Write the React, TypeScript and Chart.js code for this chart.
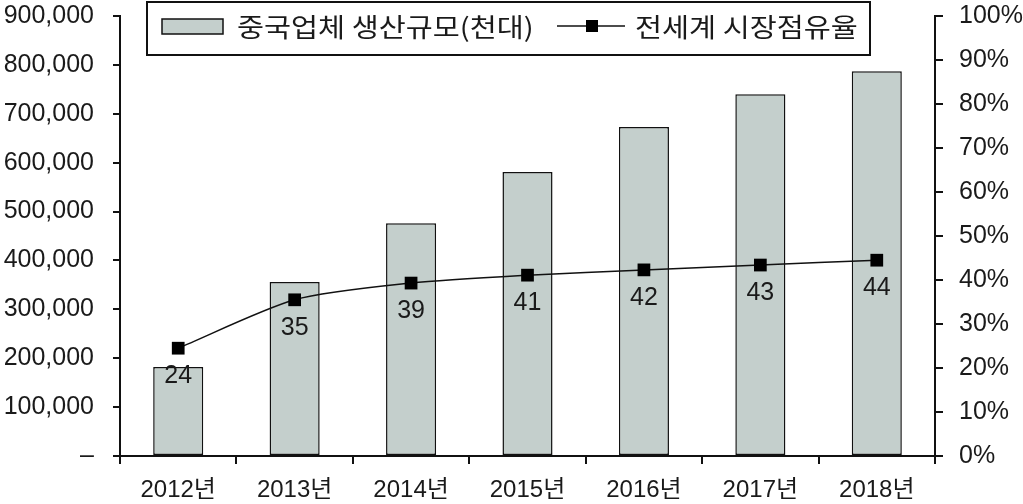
import React, { useEffect, useRef } from "react";
import { Chart, registerables } from "chart.js";

Chart.register(...registerables);

const categories = ["2012년", "2013년", "2014년", "2015년", "2016년", "2017년", "2018년"];
const productionValues = [182000, 356000, 476000, 581000, 673000, 740000, 787000];
const shareValues = [24.5, 35.5, 39.3, 41.1, 42.3, 43.4, 44.5];
const shareLabels = ["24", "35", "39", "41", "42", "43", "44"];
const barLabel = "중국업체 생산규모(천대)";
const lineLabel = "전세계 시장점유율";

const BAR_COLOR = "rgb(196,207,204)";
const FONT = "'Liberation Sans', Arial, 'Noto Sans CJK KR', sans-serif";
const KFONT = "'Noto Sans CJK KR', 'Liberation Sans', sans-serif";

function stretchedText(ctx: any, text: string, x: number, y: number, sx: number) {
  ctx.save();
  ctx.translate(x, y);
  ctx.scale(sx, 1);
  ctx.fillText(text, 0, 0);
  ctx.restore();
}

const overlayPlugin = {
  id: "overlay",
  afterDatasetsDraw(chart: any) {
    const ctx = chart.ctx;
    const meta = chart.getDatasetMeta(1);
    ctx.save();
    ctx.font = `25px ${FONT}`;
    ctx.fillStyle = "#1a1a1a";
    ctx.textAlign = "center";
    ctx.textBaseline = "middle";
    meta.data.forEach((pt: any, i: number) => {
      ctx.fillText(shareLabels[i], pt.x, pt.y + 28);
    });
    ctx.restore();
  },
  afterDraw(chart: any) {
    const ctx = chart.ctx;
    ctx.save();
    ctx.fillStyle = "#fff";
    ctx.fillRect(147, 2, 723, 53);
    ctx.strokeStyle = "#111";
    ctx.lineWidth = 2;
    ctx.strokeRect(147, 2, 723, 53);
    ctx.fillStyle = BAR_COLOR;
    ctx.fillRect(162, 19, 61, 15);
    ctx.lineWidth = 1.5;
    ctx.strokeRect(162, 19, 61, 15);
    ctx.fillStyle = "#1a1a1a";
    ctx.font = `26px ${KFONT}`;
    ctx.textAlign = "left";
    ctx.textBaseline = "middle";
    stretchedText(ctx, barLabel, 237, 27, 1.13);
    ctx.strokeStyle = "#111";
    ctx.lineWidth = 1.5;
    ctx.beginPath();
    ctx.moveTo(557, 26);
    ctx.lineTo(625, 26);
    ctx.stroke();
    ctx.fillStyle = "#000";
    ctx.fillRect(586, 20, 12, 12);
    ctx.fillStyle = "#1a1a1a";
    stretchedText(ctx, lineLabel, 635, 27, 1.13);
    ctx.restore();
  },
};

export default function App() {
  const ref = useRef<HTMLCanvasElement>(null);
  useEffect(() => {
    document.body.style.margin = "0";
    const chart = new Chart(ref.current!, {
      type: "bar",
      data: {
        labels: categories,
        datasets: [
          {
            type: "bar",
            label: barLabel,
            data: productionValues,
            backgroundColor: BAR_COLOR,
            borderColor: "#111",
            borderWidth: 1.5,
            borderSkipped: false,
            barPercentage: 0.43,
            categoryPercentage: 1,
            yAxisID: "y",
            order: 2,
          },
          {
            type: "line",
            label: lineLabel,
            data: shareValues,
            borderColor: "#111",
            borderWidth: 1.5,
            backgroundColor: "#000",
            pointStyle: "rect",
            pointRadius: 9,
            pointBorderWidth: 0,
            tension: 0.25,
            yAxisID: "y1",
            order: 1,
          } as any,
        ],
      },
      options: {
        animation: false,
        responsive: false,
        layout: { padding: { top: 16, left: 0, right: 0, bottom: 0 } },
        plugins: { legend: { display: false }, tooltip: { enabled: false } },
        scales: {
          x: {
            offset: true,
            grid: {
              offset: true,
              drawOnChartArea: false,
              drawTicks: true,
              tickLength: 8,
              color: "#111",
              lineWidth: 2,
            },
            border: { display: true, color: "#111", width: 2 },
            ticks: { color: "#1a1a1a", font: { family: FONT, size: 24 }, padding: 12 },
            afterFit(scale: any) {
              scale.height = 48;
              scale.paddingLeft = 0;
              scale.paddingRight = 0;
            },
          },
          y: {
            position: "left",
            min: 0,
            max: 900000,
            grid: { drawOnChartArea: false, tickLength: 7, color: "#111", lineWidth: 2 },
            border: { display: true, color: "#111", width: 2 },
            ticks: {
              stepSize: 100000,
              color: "#1a1a1a",
              font: { family: FONT, size: 25 },
              padding: 19,
              callback: (v: any) => (v === 0 ? "–" : Number(v).toLocaleString("en-US")),
            },
            afterFit(scale: any) {
              scale.width = 120;
              scale.paddingTop = 0;
              scale.paddingBottom = 0;
            },
          },
          y1: {
            position: "right",
            min: 0,
            max: 100,
            grid: { drawOnChartArea: false, tickLength: 8, color: "#111", lineWidth: 2 },
            border: { display: true, color: "#111", width: 2 },
            ticks: {
              stepSize: 10,
              color: "#1a1a1a",
              font: { family: FONT, size: 25 },
              padding: 16,
              callback: (v: any) => `${v}%`,
            },
            afterFit(scale: any) {
              scale.width = 88;
              scale.paddingTop = 0;
              scale.paddingBottom = 0;
            },
          },
        },
      },
      plugins: [overlayPlugin],
    });
    return () => chart.destroy();
  }, []);
  return (
    <div style={{ width: 1023, height: 504, background: "#fff" }}>
      <canvas ref={ref} width={1023} height={504} />
    </div>
  );
}
